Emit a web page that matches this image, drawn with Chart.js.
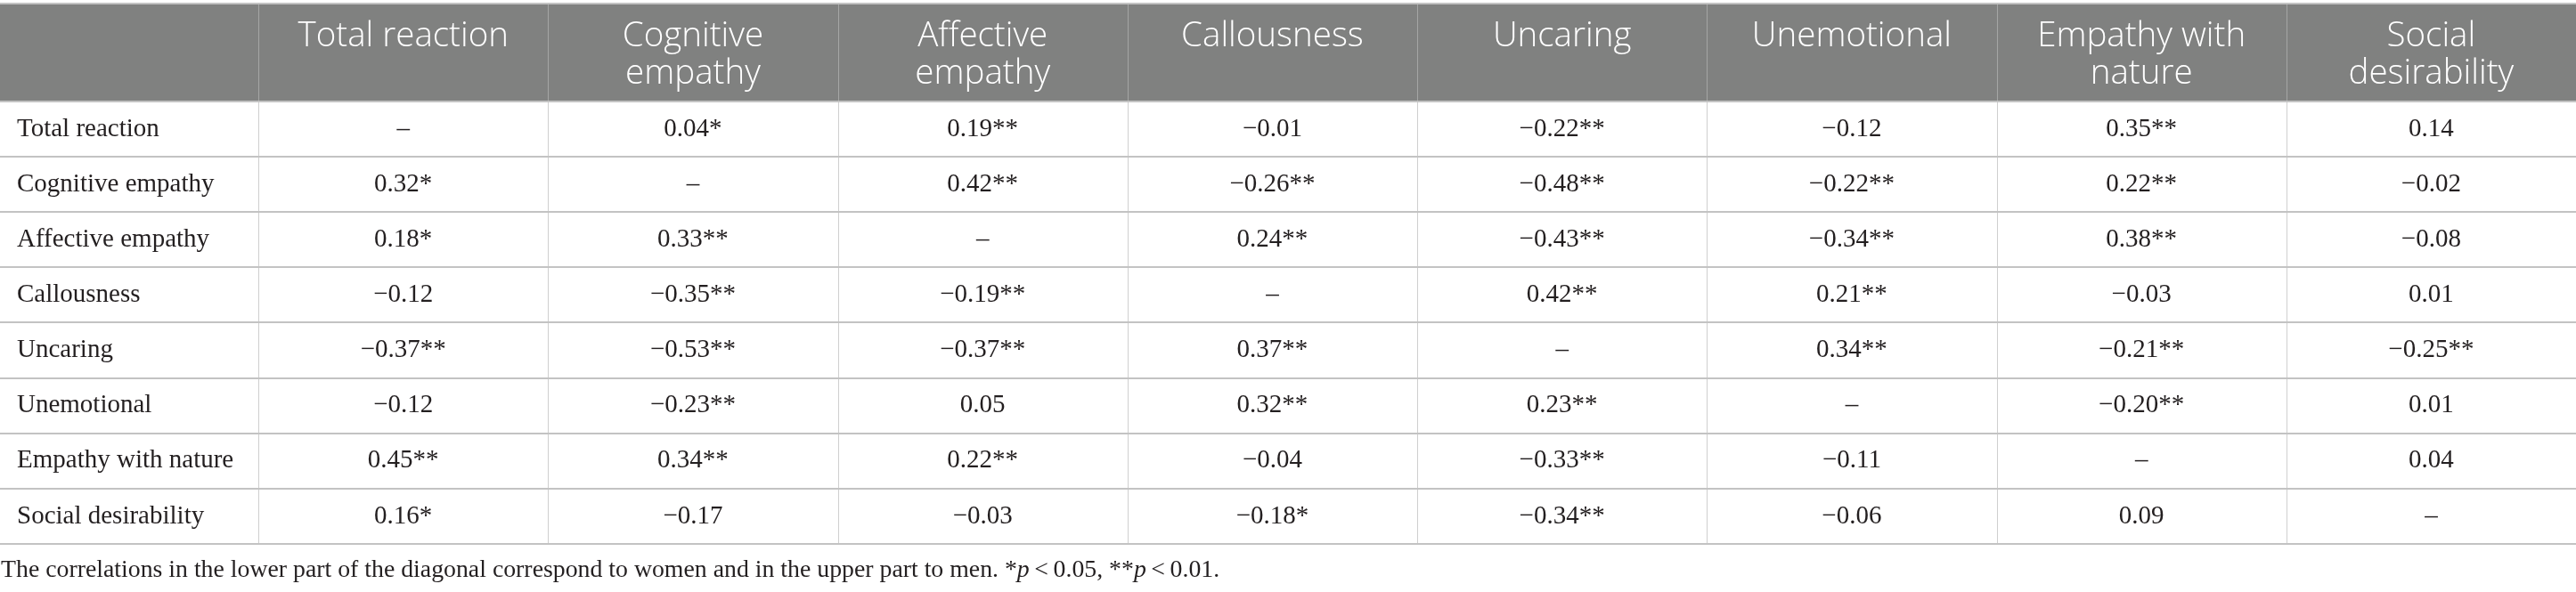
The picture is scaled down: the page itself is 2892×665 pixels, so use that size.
<!DOCTYPE html>
<html lang="en">
<head>
    <meta charset="UTF-8">
    <title>Correlations table</title>
    <script src="https://cdn.jsdelivr.net/npm/chart.js"></script>
    <style>
        body {
            margin: 0;
            background-color: #ffffff;
        }
        canvas {
            display: block;
        }
    </style>
</head>
<body>
    <canvas id="table" width="2892" height="665"></canvas>
    <script>
        // header labels, split onto the lines they wrap to
        const columnHeaders = [
            ['Total reaction'], ['Cognitive', 'empathy'], ['Affective', 'empathy'], ['Callousness'],
            ['Uncaring'], ['Unemotional'], ['Empathy with', 'nature'], ['Social', 'desirability']
        ];

        const rowNames = [
            'Total reaction', 'Cognitive empathy', 'Affective empathy', 'Callousness',
            'Uncaring', 'Unemotional', 'Empathy with nature', 'Social desirability'
        ];

        const totalReaction = ['\u2013', '0.04*', '0.19**', '\u22120.01', '\u22120.22**', '\u22120.12', '0.35**', '0.14'];
        const cognitiveEmpathy = ['0.32*', '\u2013', '0.42**', '\u22120.26**', '\u22120.48**', '\u22120.22**', '0.22**', '\u22120.02'];
        const affectiveEmpathy = ['0.18*', '0.33**', '\u2013', '0.24**', '\u22120.43**', '\u22120.34**', '0.38**', '\u22120.08'];
        const callousness = ['\u22120.12', '\u22120.35**', '\u22120.19**', '\u2013', '0.42**', '0.21**', '\u22120.03', '0.01'];
        const uncaring = ['\u22120.37**', '\u22120.53**', '\u22120.37**', '0.37**', '\u2013', '0.34**', '\u22120.21**', '\u22120.25**'];
        const unemotional = ['\u22120.12', '\u22120.23**', '0.05', '0.32**', '0.23**', '\u2013', '\u22120.20**', '0.01'];
        const empathyWithNature = ['0.45**', '0.34**', '0.22**', '\u22120.04', '\u22120.33**', '\u22120.11', '\u2013', '0.04'];
        const socialDesirability = ['0.16*', '\u22120.17', '\u22120.03', '\u22120.18*', '\u22120.34**', '\u22120.06', '0.09', '\u2013'];

        const tableRows = [
            totalReaction, cognitiveEmpathy, affectiveEmpathy, callousness,
            uncaring, unemotional, empathyWithNature, socialDesirability
        ];

        // footnote pieces, italic where the original uses italic p
        const footnoteParts = [
            { text: 'The correlations in the lower part of the diagonal correspond to women and in the upper part to men. *', italic: false },
            { text: 'p', italic: true },
            { text: '\u2009<\u20090.05, **', italic: false },
            { text: 'p', italic: true },
            { text: '\u2009<\u20090.01.', italic: false }
        ];

        // layout in scale units: one body column = 1, one body row = 1
        const firstColWidth = 0.892;
        const headerHeight = 1.77;
        const topMargin = 0.065;
        const bottomSpace = 0.87;

        const headerFont = '300 38.5px "Open Sans"';
        const bodyFont = '29px "Liberation Serif"';
        const noteFont = '27.8px "Liberation Serif"';
        const italicFont = 'italic 27.8px "Liberation Serif"';

        const colCenter = c => firstColWidth + c + 0.5;

        const cellPoints = [];
        tableRows.forEach((row, r) => {
            row.forEach((value, c) => {
                cellPoints.push({ x: colCenter(c), y: r + 0.5, text: value });
            });
        });
        const rowLabelPoints = rowNames.map((name, r) => ({ x: 0, y: r + 0.5, text: name }));
        const headerPoints = columnHeaders.map((lines, c) => ({ x: colCenter(c), y: -headerHeight, lines: lines }));

        const tablePlugin = {
            id: 'tableGrid',
            beforeDatasetsDraw(chart) {
                const ctx = chart.ctx;
                const xs = chart.scales.x;
                const ys = chart.scales.y;
                const left = xs.getPixelForValue(0);
                const right = xs.getPixelForValue(firstColWidth + columnHeaders.length);
                const headTop = ys.getPixelForValue(-headerHeight);
                const headBottom = ys.getPixelForValue(0);
                const bodyBottom = ys.getPixelForValue(rowNames.length);

                ctx.save();
                ctx.fillStyle = '#ffffff';
                ctx.fillRect(0, 0, chart.width, chart.height);

                ctx.fillStyle = '#808180';
                ctx.fillRect(left, headTop, right - left, headBottom - headTop);

                // vertical separators
                for (let c = 0; c < columnHeaders.length; c++) {
                    const x = Math.round(xs.getPixelForValue(firstColWidth + c)) + 0.5;
                    ctx.strokeStyle = '#a5a6a5';
                    ctx.lineWidth = 1;
                    ctx.beginPath();
                    ctx.moveTo(x, headTop);
                    ctx.lineTo(x, headBottom);
                    ctx.stroke();
                    ctx.strokeStyle = '#cfcfcf';
                    ctx.beginPath();
                    ctx.moveTo(x, headBottom);
                    ctx.lineTo(x, bodyBottom);
                    ctx.stroke();
                }

                // horizontal rules
                ctx.strokeStyle = '#c3c3c3';
                ctx.lineWidth = 2;
                for (let r = 0; r <= rowNames.length; r++) {
                    const y = Math.round(ys.getPixelForValue(r));
                    ctx.beginPath();
                    ctx.moveTo(left, y);
                    ctx.lineTo(right, y);
                    ctx.stroke();
                }
                ctx.beginPath();
                ctx.moveTo(left, Math.round(headTop));
                ctx.lineTo(right, Math.round(headTop));
                ctx.stroke();
                ctx.restore();
            },
            afterDatasetsDraw(chart) {
                const ctx = chart.ctx;
                ctx.save();
                ctx.textBaseline = 'middle';

                // body cells
                const cells = chart.getDatasetMeta(0).data;
                ctx.font = bodyFont;
                ctx.fillStyle = '#231f20';
                ctx.textAlign = 'center';
                cells.forEach((pt, i) => {
                    ctx.fillText(chart.data.datasets[0].data[i].text, pt.x, pt.y);
                });

                // row labels
                const rows = chart.getDatasetMeta(1).data;
                ctx.textAlign = 'left';
                rows.forEach((pt, i) => {
                    ctx.fillText(chart.data.datasets[1].data[i].text, pt.x + 19, pt.y);
                });

                // header labels
                const heads = chart.getDatasetMeta(2).data;
                ctx.font = headerFont;
                ctx.fillStyle = '#ffffff';
                ctx.textAlign = 'center';
                heads.forEach((pt, i) => {
                    chart.data.datasets[2].data[i].lines.forEach((line, k) => {
                        ctx.fillText(line, pt.x, pt.y + 37 + k * 42);
                    });
                });

                // footnote
                const ys = chart.scales.y;
                const xs = chart.scales.x;
                let fx = xs.getPixelForValue(0) + 1;
                const fy = ys.getPixelForValue(rowNames.length + bottomSpace / 2) + 3;
                ctx.fillStyle = '#231f20';
                ctx.textAlign = 'left';
                footnoteParts.forEach(part => {
                    ctx.font = part.italic ? italicFont : noteFont;
                    ctx.fillText(part.text, fx, fy);
                    fx += ctx.measureText(part.text).width;
                });
                ctx.restore();
            }
        };

        new Chart(document.getElementById('table'), {
            type: 'scatter',
            data: {
                datasets: [
                    { label: 'cells', data: cellPoints, pointRadius: 0 },
                    { label: 'rows', data: rowLabelPoints, pointRadius: 0 },
                    { label: 'headers', data: headerPoints, pointRadius: 0 }
                ]
            },
            options: {
                responsive: false,
                devicePixelRatio: 1,
                animation: false,
                events: [],
                layout: { padding: 0 },
                plugins: {
                    legend: { display: false },
                    tooltip: { enabled: false }
                },
                scales: {
                    x: {
                        type: 'linear',
                        display: false,
                        min: 0,
                        max: firstColWidth + columnHeaders.length
                    },
                    y: {
                        type: 'linear',
                        display: false,
                        reverse: true,
                        min: -headerHeight - topMargin,
                        max: rowNames.length + bottomSpace
                    }
                }
            },
            plugins: [tablePlugin]
        });
    </script>
</body>
</html>
